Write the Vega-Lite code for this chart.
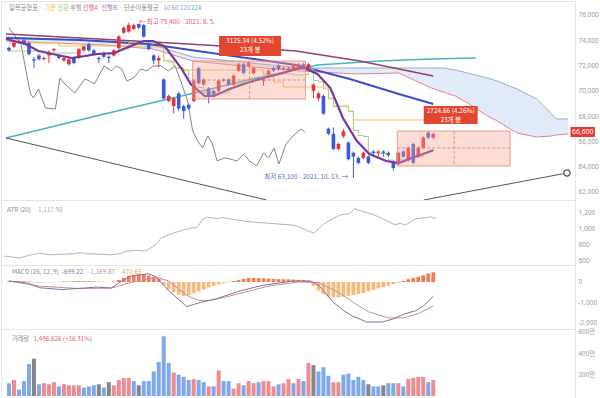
{
"$schema":"https://vega.github.io/schema/vega-lite/v6.json",
"padding":0,
"bounds":"flush",
"spacing":0,
"background":"#ffffff",
"config":{
 "view":{"stroke":"#e6e6e6","strokeWidth":1},
 "axis":{"labelFont":"Noto Sans","labelFontSize":6.5,"labelColor":"#9b9b9b","ticks":false,"domain":false,"grid":false,"labelPadding":3,"title":null},
 "text":{"font":"Noto Sans CJK KR","fontSize":6.3,"baseline":"middle","align":"left"},
 "concat":{"spacing":0}
},
"datasets":{
 "candles":[
  {"i":0,"o":73400,"c":73200,"h":73500,"l":73100,"d":"dn"},
  {"i":1,"o":73500,"c":73800,"h":73900,"l":73400,"d":"up"},
  {"i":2,"o":73800,"c":73900,"h":74000,"l":73700,"d":"up"},
  {"i":3,"o":74000,"c":73700,"h":74200,"l":73600,"d":"dn"},
  {"i":4,"o":73800,"c":72900,"h":73900,"l":72800,"d":"dn"},
  {"i":5,"o":72500,"c":72400,"h":72700,"l":71800,"d":"dn"},
  {"i":6,"o":72800,"c":72500,"h":72900,"l":72400,"d":"dn"},
  {"i":7,"o":72500,"c":72600,"h":72700,"l":72400,"d":"up"},
  {"i":8,"o":72800,"c":73000,"h":73200,"l":72200,"d":"up"},
  {"i":9,"o":73200,"c":73300,"h":73400,"l":73100,"d":"up"},
  {"i":10,"o":72800,"c":72600,"h":72900,"l":72500,"d":"dn"},
  {"i":11,"o":72400,"c":72600,"h":72700,"l":72300,"d":"up"},
  {"i":12,"o":72100,"c":72500,"h":72600,"l":72000,"d":"up"},
  {"i":13,"o":72600,"c":72200,"h":72700,"l":72100,"d":"dn"},
  {"i":14,"o":72600,"c":73300,"h":73400,"l":72500,"d":"up"},
  {"i":15,"o":73200,"c":73500,"h":73600,"l":73100,"d":"up"},
  {"i":16,"o":73700,"c":73200,"h":73800,"l":73100,"d":"dn"},
  {"i":17,"o":73200,"c":72900,"h":73300,"l":72800,"d":"dn"},
  {"i":18,"o":72600,"c":72500,"h":72700,"l":72200,"d":"dn"},
  {"i":19,"o":73000,"c":72700,"h":73100,"l":72600,"d":"dn"},
  {"i":20,"o":72700,"c":72600,"h":72800,"l":72200,"d":"dn"},
  {"i":21,"o":72800,"c":73200,"h":73300,"l":72700,"d":"up"},
  {"i":22,"o":73400,"c":74300,"h":74400,"l":73300,"d":"up"},
  {"i":23,"o":74600,"c":75000,"h":75100,"l":74500,"d":"up"},
  {"i":24,"o":74700,"c":75200,"h":75400,"l":74600,"d":"up"},
  {"i":25,"o":74900,"c":75200,"h":75300,"l":74800,"d":"up"},
  {"i":26,"o":75300,"c":75000,"h":75300,"l":74900,"d":"dn"},
  {"i":27,"o":75200,"c":74300,"h":75300,"l":74200,"d":"dn"},
  {"i":28,"o":73700,"c":73300,"h":73800,"l":73200,"d":"dn"},
  {"i":29,"o":72800,"c":72400,"h":72900,"l":72100,"d":"dn"},
  {"i":30,"o":72400,"c":72600,"h":72800,"l":71900,"d":"up"},
  {"i":31,"o":70900,"c":69400,"h":71000,"l":69300,"d":"dn"},
  {"i":32,"o":69200,"c":69600,"h":69700,"l":69100,"d":"up"},
  {"i":33,"o":68800,"c":69400,"h":69500,"l":68200,"d":"up"},
  {"i":34,"o":69800,"c":68600,"h":69900,"l":68400,"d":"dn"},
  {"i":35,"o":68800,"c":68400,"h":68900,"l":67800,"d":"dn"},
  {"i":36,"o":68900,"c":68600,"h":69000,"l":68500,"d":"dn"},
  {"i":37,"o":69200,"c":70800,"h":70900,"l":69100,"d":"up"},
  {"i":38,"o":71800,"c":70600,"h":71900,"l":70500,"d":"dn"},
  {"i":39,"o":70500,"c":70900,"h":71000,"l":70400,"d":"up"},
  {"i":40,"o":70200,"c":69600,"h":70300,"l":69000,"d":"dn"},
  {"i":41,"o":70000,"c":69700,"h":70100,"l":69500,"d":"dn"},
  {"i":42,"o":70000,"c":70800,"h":70900,"l":69900,"d":"up"},
  {"i":43,"o":70800,"c":70900,"h":71000,"l":70700,"d":"up"},
  {"i":44,"o":70900,"c":70500,"h":71000,"l":70400,"d":"dn"},
  {"i":45,"o":70500,"c":71200,"h":71300,"l":70400,"d":"up"},
  {"i":46,"o":71600,"c":72100,"h":72200,"l":71500,"d":"up"},
  {"i":47,"o":72100,"c":71400,"h":72200,"l":71300,"d":"dn"},
  {"i":48,"o":72000,"c":72200,"h":72300,"l":71900,"d":"up"},
  {"i":49,"o":71400,"c":71800,"h":71900,"l":71300,"d":"up"},
  {"i":50,"o":71000,"c":70900,"h":71100,"l":70800,"d":"dn"},
  {"i":51,"o":70800,"c":70900,"h":71000,"l":70400,"d":"up"},
  {"i":52,"o":71300,"c":71600,"h":71700,"l":71200,"d":"up"},
  {"i":53,"o":71800,"c":71600,"h":71900,"l":71500,"d":"dn"},
  {"i":54,"o":72000,"c":71700,"h":72100,"l":71600,"d":"dn"},
  {"i":55,"o":71700,"c":71800,"h":71900,"l":71600,"d":"up"},
  {"i":56,"o":71600,"c":71800,"h":71900,"l":71500,"d":"up"},
  {"i":57,"o":71700,"c":72000,"h":72100,"l":71600,"d":"up"},
  {"i":58,"o":71800,"c":72100,"h":72200,"l":71700,"d":"up"},
  {"i":59,"o":72100,"c":71800,"h":72200,"l":71700,"d":"dn"},
  {"i":60,"o":71800,"c":72100,"h":72200,"l":71700,"d":"up"},
  {"i":61,"o":70000,"c":70500,"h":70600,"l":69400,"d":"up"},
  {"i":62,"o":69400,"c":69800,"h":69900,"l":69200,"d":"up"},
  {"i":63,"o":69600,"c":68200,"h":69700,"l":68100,"d":"dn"},
  {"i":64,"o":67000,"c":66600,"h":67100,"l":66500,"d":"dn"},
  {"i":65,"o":66600,"c":65400,"h":67100,"l":65300,"d":"dn"},
  {"i":66,"o":65400,"c":65800,"h":65900,"l":65300,"d":"up"},
  {"i":67,"o":66400,"c":66800,"h":67000,"l":66300,"d":"up"},
  {"i":68,"o":65900,"c":64600,"h":66000,"l":64500,"d":"dn"},
  {"i":69,"o":65100,"c":64800,"h":65200,"l":63100,"d":"dn"},
  {"i":70,"o":64700,"c":64300,"h":64800,"l":64200,"d":"dn"},
  {"i":71,"o":64700,"c":65100,"h":65200,"l":64600,"d":"up"},
  {"i":72,"o":64800,"c":64300,"h":64900,"l":64200,"d":"dn"},
  {"i":73,"o":65200,"c":65100,"h":65300,"l":64900,"d":"dn"},
  {"i":74,"o":65100,"c":65200,"h":65300,"l":64800,"d":"up"},
  {"i":75,"o":65200,"c":65100,"h":65300,"l":64800,"d":"dn"},
  {"i":76,"o":65100,"c":64900,"h":65200,"l":64800,"d":"dn"},
  {"i":77,"o":64300,"c":63900,"h":64500,"l":63700,"d":"dn"},
  {"i":78,"o":64200,"c":65100,"h":65200,"l":64100,"d":"up"},
  {"i":79,"o":65200,"c":64800,"h":65300,"l":64700,"d":"dn"},
  {"i":80,"o":64500,"c":65500,"h":65600,"l":64400,"d":"up"},
  {"i":81,"o":65800,"c":64300,"h":65900,"l":64200,"d":"dn"},
  {"i":82,"o":64800,"c":65500,"h":65600,"l":64700,"d":"up"},
  {"i":83,"o":65500,"c":66300,"h":66400,"l":65400,"d":"up"},
  {"i":84,"o":66700,"c":66300,"h":66800,"l":66200,"d":"dn"},
  {"i":85,"o":66300,"c":66600,"h":66700,"l":66200,"d":"up"}
 ],
 "cloud":[
  {"i":-0.6,"a":73943,"b":74260},{"i":19.1,"a":73627,"b":73943},{"i":28.9,"a":73311,"b":73627},
  {"i":36.8,"a":72361,"b":72678},{"i":48.6,"a":71887,"b":72203},{"i":58.5,"a":71570,"b":71808},
  {"i":69.7,"a":71333,"b":71808},{"i":78.1,"a":71412,"b":71808},{"i":84.6,"a":70226,"b":71808},
  {"i":87.0,"a":69909,"b":71808},{"i":89.4,"a":69593,"b":71650},{"i":91.9,"a":69039,"b":71412},
  {"i":95.9,"a":68011,"b":71017},{"i":97.8,"a":67615,"b":70779},{"i":101.8,"a":66666,"b":70147},
  {"i":105.7,"a":66350,"b":69356},{"i":108.7,"a":66429,"b":68169},{"i":109.6,"a":66508,"b":67774},
  {"i":112.0,"a":66587,"b":67774}
 ],
 "ma":[
  {"s":"후행","i":0,"p":74972},{"s":"후행","i":2.4,"p":73706},{"s":"후행","i":3.3,"p":71808},{"s":"후행","i":4.3,"p":69751},{"s":"후행","i":4.9,"p":69435},{"s":"후행","i":5.9,"p":70147},{"s":"후행","i":7.3,"p":68644},{"s":"후행","i":9.3,"p":68565},{"s":"후행","i":10.2,"p":71017},{"s":"후행","i":11.2,"p":70542},{"s":"후행","i":13.2,"p":69830},{"s":"후행","i":15.2,"p":70938},{"s":"후행","i":16.1,"p":70779},{"s":"후행","i":17.1,"p":70542},{"s":"후행","i":19.1,"p":71966},{"s":"후행","i":20.5,"p":71570},{"s":"후행","i":21.5,"p":71966},{"s":"후행","i":22.6,"p":71729},{"s":"후행","i":23.6,"p":70779},{"s":"후행","i":25,"p":71017},{"s":"후행","i":26.4,"p":71729},{"s":"후행","i":27.6,"p":71570},{"s":"후행","i":28.9,"p":71966},{"s":"후행","i":30.5,"p":71966},{"s":"후행","i":31.9,"p":71570},{"s":"후행","i":33.3,"p":71966},{"s":"후행","i":34.4,"p":70779},{"s":"후행","i":35.8,"p":69197},{"s":"후행","i":36.8,"p":66824},{"s":"후행","i":37.8,"p":66033},{"s":"후행","i":38.8,"p":65480},{"s":"후행","i":39.8,"p":66429},{"s":"후행","i":40.7,"p":65875},{"s":"후행","i":41.7,"p":64451},{"s":"후행","i":43.1,"p":64689},{"s":"후행","i":44.3,"p":64610},{"s":"후행","i":45.7,"p":64451},{"s":"후행","i":47,"p":65005},{"s":"후행","i":48.2,"p":64451},{"s":"후행","i":49.6,"p":64056},{"s":"후행","i":51,"p":65084},{"s":"후행","i":52,"p":64689},{"s":"후행","i":53.1,"p":65480},{"s":"후행","i":54.1,"p":64214},{"s":"후행","i":55.5,"p":65796},{"s":"후행","i":56.9,"p":66429},{"s":"후행","i":58.5,"p":66982},{"s":"후행","i":59.3,"p":66745},
  {"s":"MA224","i":-0.6,"p":66271},{"s":"MA224","i":19.1,"p":68169},{"s":"MA224","i":38.8,"p":69988},{"s":"MA224","i":48.6,"p":70938},{"s":"MA224","i":61.8,"p":72045},{"s":"MA224","i":74.2,"p":72361},{"s":"MA224","i":84.6,"p":72520},{"s":"MA224","i":93.5,"p":72599},
  {"s":"MA120","i":-0.6,"p":74497},{"s":"MA120","i":14.2,"p":74181},{"s":"MA120","i":28.9,"p":73864},{"s":"MA120","i":42.7,"p":73548},{"s":"MA120","i":57.5,"p":73152},{"s":"MA120","i":70.3,"p":72361},{"s":"MA120","i":85,"p":71175},
  {"s":"MA60","i":-0.6,"p":74181},{"s":"MA60","i":14.2,"p":74023},{"s":"MA60","i":28,"p":73706},{"s":"MA60","i":47.6,"p":72599},{"s":"MA60","i":57.5,"p":72045},{"s":"MA60","i":68.3,"p":70938},{"s":"MA60","i":78.1,"p":69751},{"s":"MA60","i":85,"p":68960},
  {"s":"MA10","i":-0.6,"p":74102},{"s":"MA10","i":3.3,"p":73706},{"s":"MA10","i":5.9,"p":73152},{"s":"MA10","i":8.7,"p":72915},{"s":"MA10","i":12.6,"p":72599},{"s":"MA10","i":15.2,"p":72757},{"s":"MA10","i":17.7,"p":72915},{"s":"MA10","i":21.1,"p":72994},{"s":"MA10","i":24.4,"p":73548},{"s":"MA10","i":27,"p":73943},{"s":"MA10","i":28.9,"p":73943},{"s":"MA10","i":31.3,"p":73469},{"s":"MA10","i":34.5,"p":71808},{"s":"MA10","i":36.4,"p":70542},{"s":"MA10","i":39.2,"p":69593},{"s":"MA10","i":41.1,"p":69593},{"s":"MA10","i":43.7,"p":70068},{"s":"MA10","i":47.6,"p":70621},{"s":"MA10","i":51,"p":71017},{"s":"MA10","i":54.9,"p":71412},{"s":"MA10","i":57.5,"p":71729},{"s":"MA10","i":59.1,"p":71808},{"s":"MA10","i":61.8,"p":71333},{"s":"MA10","i":64.4,"p":70226},{"s":"MA10","i":66.9,"p":67853},{"s":"MA10","i":69.7,"p":66033},{"s":"MA10","i":72.2,"p":65005},{"s":"MA10","i":75.6,"p":64451},{"s":"MA10","i":78.1,"p":64293},{"s":"MA10","i":80.7,"p":64689},{"s":"MA10","i":84.6,"p":65242},{"s":"MA10","i":85,"p":65322}
 ],
 "ichi":[
  {"s":"기준","i":0,"p":73785},{"s":"기준","i":10,"p":73548},{"s":"기준","i":26,"p":73469},{"s":"기준","i":31,"p":72361},{"s":"기준","i":33,"p":71808},{"s":"기준","i":35,"p":71650},{"s":"기준","i":51,"p":71175},{"s":"기준","i":53,"p":70700},{"s":"기준","i":55,"p":70305},{"s":"기준","i":64,"p":69435},{"s":"기준","i":65,"p":68802},{"s":"기준","i":68,"p":68406},{"s":"기준","i":69,"p":67695},{"s":"기준","i":85,"p":67695},
  {"s":"전환","i":0,"p":73152},{"s":"전환","i":8,"p":72994},{"s":"전환","i":14,"p":72717},{"s":"전환","i":16,"p":72915},{"s":"전환","i":22,"p":73311},{"s":"전환","i":24,"p":73825},{"s":"전환","i":29,"p":73785},{"s":"전환","i":30,"p":73667},{"s":"전환","i":31,"p":72401},{"s":"전환","i":32,"p":72282},{"s":"전환","i":33,"p":71808},{"s":"전환","i":35,"p":71610},{"s":"전환","i":36,"p":70779},{"s":"전환","i":37,"p":70344},{"s":"전환","i":38,"p":70265},{"s":"전환","i":39,"p":69830},{"s":"전환","i":44,"p":70226},{"s":"전환","i":45,"p":70463},{"s":"전환","i":46,"p":70621},{"s":"전환","i":48,"p":70661},{"s":"전환","i":49,"p":70898},{"s":"전환","i":50,"p":71096},{"s":"전환","i":51,"p":71333},{"s":"전환","i":57,"p":71254},{"s":"전환","i":59,"p":71294},{"s":"전환","i":60,"p":71729},{"s":"전환","i":61,"p":70819},{"s":"전환","i":62,"p":70700},{"s":"전환","i":63,"p":70147},{"s":"전환","i":64,"p":69356},{"s":"전환","i":65,"p":68762},{"s":"전환","i":68,"p":68367},{"s":"전환","i":69,"p":66864},{"s":"전환","i":70,"p":66468},{"s":"전환","i":71,"p":66389},{"s":"전환","i":72,"p":65084},{"s":"전환","i":74,"p":65045},{"s":"전환","i":76,"p":64531},{"s":"전환","i":77,"p":64214},{"s":"전환","i":78,"p":64531},{"s":"전환","i":80,"p":64649},{"s":"전환","i":81,"p":64807},{"s":"전환","i":83,"p":65045},{"s":"전환","i":84,"p":65242},{"s":"전환","i":85,"p":65242}
 ],
 "trend":[
  {"g":"t1","i":-0.6,"p":66271},{"g":"t1","i":51.6,"p":61366},
  {"g":"t2","i":83.1,"p":61366},{"g":"t2","i":111.8,"p":63502}
 ],
 "tpt":[{"i":111.8,"p":63502}],
 "boxes":[{"x1":36.8,"x2":59.4,"y1":72361,"y2":69356},{"x1":77.8,"x2":100.4,"y1":66824,"y2":64056}],
 "dash":[
  {"x1":36.8,"x2":59.4,"y1":70859,"y2":70859},{"x1":48.2,"x2":48.2,"y1":72361,"y2":69356},
  {"x1":77.8,"x2":100.4,"y1":65480,"y2":65480},{"x1":89.2,"x2":89.2,"y1":66824,"y2":64056}
 ],
 "lbox":[{"x1":42.1,"x2":54.5,"y1":74339,"y2":72757},{"x1":83.1,"x2":93.9,"y1":68802,"y2":67378}],
 "ltext":[
  {"i":48.3,"p":73943,"t":"3125.34 (4.52%)"},{"i":48.3,"p":73231,"t":"23개 봉"},
  {"i":88.5,"p":68406,"t":"2724.66 (4.26%)"},{"i":88.5,"p":67695,"t":"23개 봉"}
 ],
 "leg":[
  {"i":0,"p":76554,"t":"일목균형표"},{"i":7.09,"p":76554,"t":"기준"},{"i":9.65,"p":76554,"t":"전환"},
  {"i":12.2,"p":76554,"t":"후행"},{"i":14.76,"p":76554,"t":"선행A"},{"i":18.5,"p":76554,"t":"선행B"},
  {"i":22.05,"p":76554,"t":"·"},{"i":23.03,"p":76554,"t":"단순이동평균"},{"i":30.9,"p":76554,"t":"10 60 120"},
  {"i":36.4,"p":76554,"t":"224"}
 ],
 "hi":[{"i":26,"p":75446,"t":"← 최고 75,400 - 2021. 8. 5."}],
 "lo":[{"i":67.9,"p":63186,"t":"최저 63,100 - 2021. 10. 13. →"}],
 "last":[{"x1":112.5,"x2":117.4,"y1":67141,"y2":66350,"i":114.95,"p":66745,"t":"66,600"}],
 "atr":[
  {"i":0,"v":650},{"i":3,"v":625},{"i":5,"v":660},{"i":7,"v":683},{"i":9,"v":665},{"i":11,"v":670},{"i":14,"v":680},{"i":15,"v":695},{"i":16,"v":680},{"i":19,"v":672},{"i":21,"v":665},{"i":23,"v":680},{"i":24,"v":710},{"i":26,"v":720},{"i":28,"v":712},{"i":30,"v":800},{"i":31,"v":880},{"i":33,"v":930},{"i":35,"v":970},{"i":37,"v":1000},{"i":38,"v":1005},{"i":39,"v":1100},{"i":40,"v":1135},{"i":42,"v":1120},{"i":43,"v":1130},{"i":46,"v":1098},{"i":48,"v":1080},{"i":52,"v":1060},{"i":57,"v":1035},{"i":58,"v":1015},{"i":60,"v":960},{"i":61,"v":935},{"i":63,"v":1055},{"i":64,"v":1090},{"i":66,"v":1160},{"i":67,"v":1170},{"i":68,"v":1180},{"i":69,"v":1240},{"i":71,"v":1200},{"i":73,"v":1160},{"i":75,"v":1100},{"i":77,"v":1040},{"i":78,"v":1060},{"i":79,"v":1035},{"i":81,"v":1115},{"i":83,"v":1130},{"i":84,"v":1140},{"i":85,"v":1118}
 ],
 "atrh":[{"i":0.6,"v":1225,"t":"ATR (20)"},{"i":6.7,"v":1225,"t":"1,117.98"}],
 "macd":[
  {"s":"m","i":0,"v":50},{"s":"m","i":3.9,"v":-60},{"s":"m","i":6.1,"v":-280},{"s":"m","i":10.6,"v":-370},{"s":"m","i":14.6,"v":-300},{"s":"m","i":17.5,"v":-250},{"s":"m","i":20.5,"v":-290},{"s":"m","i":22,"v":-50},{"s":"m","i":24.2,"v":280},{"s":"m","i":28,"v":400},{"s":"m","i":29.5,"v":250},{"s":"m","i":31.9,"v":-400},{"s":"m","i":35.6,"v":-1200},{"s":"m","i":38.6,"v":-980},{"s":"m","i":41.5,"v":-820},{"s":"m","i":46.1,"v":-450},{"s":"m","i":50.6,"v":-170},{"s":"m","i":56.7,"v":40},{"s":"m","i":60.4,"v":50},{"s":"m","i":62,"v":-150},{"s":"m","i":63.6,"v":-600},{"s":"m","i":65,"v":-1000},{"s":"m","i":67.1,"v":-1400},{"s":"m","i":68.7,"v":-1650},{"s":"m","i":71.7,"v":-1950},{"s":"m","i":74.8,"v":-1950},{"s":"m","i":77,"v":-1800},{"s":"m","i":79.3,"v":-1550},{"s":"m","i":81.5,"v":-1400},{"s":"m","i":83.1,"v":-1150},{"s":"m","i":85,"v":-699},
  {"s":"sg","i":0,"v":50},{"s":"sg","i":6,"v":-200},{"s":"sg","i":14,"v":-320},{"s":"sg","i":20.5,"v":-300},{"s":"sg","i":24,"v":-50},{"s":"sg","i":28,"v":150},{"s":"sg","i":30,"v":200},{"s":"sg","i":32,"v":50},{"s":"sg","i":34,"v":-350},{"s":"sg","i":36,"v":-700},{"s":"sg","i":38,"v":-900},{"s":"sg","i":40,"v":-920},{"s":"sg","i":44,"v":-700},{"s":"sg","i":52,"v":-200},{"s":"sg","i":58,"v":0},{"s":"sg","i":62,"v":-30},{"s":"sg","i":66,"v":-500},{"s":"sg","i":69,"v":-1000},{"s":"sg","i":72,"v":-1450},{"s":"sg","i":76,"v":-1750},{"s":"sg","i":79,"v":-1750},{"s":"sg","i":82,"v":-1550},{"s":"sg","i":85,"v":-1170}
 ],
 "hist":[
  {"i":0,"v":40,"k":"p"},{"i":1,"v":50,"k":"p"},{"i":2,"v":45,"k":"p"},{"i":3,"v":35,"k":"p"},{"i":4,"v":25,"k":"p"},{"i":5,"v":-20,"k":"n"},{"i":6,"v":-40,"k":"n"},{"i":7,"v":-30,"k":"n"},{"i":8,"v":-20,"k":"n"},{"i":9,"v":-10,"k":"n"},{"i":10,"v":10,"k":"p"},{"i":11,"v":20,"k":"p"},{"i":12,"v":30,"k":"p"},{"i":13,"v":40,"k":"p"},{"i":14,"v":45,"k":"p"},{"i":15,"v":40,"k":"p"},{"i":16,"v":35,"k":"p"},{"i":17,"v":30,"k":"p"},{"i":18,"v":20,"k":"p"},{"i":19,"v":10,"k":"p"},{"i":20,"v":-10,"k":"n"},{"i":21,"v":30,"k":"p"},
  {"i":22,"v":100,"k":"p"},{"i":23,"v":200,"k":"p"},{"i":24,"v":300,"k":"p"},{"i":25,"v":350,"k":"p"},{"i":26,"v":380,"k":"p"},{"i":27,"v":390,"k":"p"},{"i":28,"v":320,"k":"p"},{"i":29,"v":250,"k":"p"},{"i":30,"v":150,"k":"p"},
  {"i":31,"v":-150,"k":"n"},{"i":32,"v":-350,"k":"n"},{"i":33,"v":-500,"k":"n"},{"i":34,"v":-620,"k":"n"},{"i":35,"v":-680,"k":"n"},{"i":36,"v":-650,"k":"n"},{"i":37,"v":-560,"k":"n"},{"i":38,"v":-460,"k":"n"},{"i":39,"v":-360,"k":"n"},{"i":40,"v":-270,"k":"n"},{"i":41,"v":-190,"k":"n"},{"i":42,"v":-120,"k":"n"},{"i":43,"v":-60,"k":"n"},
  {"i":44,"v":20,"k":"p"},{"i":45,"v":50,"k":"p"},{"i":46,"v":100,"k":"p"},{"i":47,"v":150,"k":"p"},{"i":48,"v":190,"k":"p"},{"i":49,"v":200,"k":"p"},{"i":50,"v":190,"k":"p"},{"i":51,"v":180,"k":"p"},{"i":52,"v":160,"k":"p"},{"i":53,"v":150,"k":"p"},{"i":54,"v":140,"k":"p"},{"i":55,"v":130,"k":"p"},{"i":56,"v":130,"k":"p"},{"i":57,"v":120,"k":"p"},{"i":58,"v":110,"k":"p"},{"i":59,"v":100,"k":"p"},{"i":60,"v":60,"k":"p"},
  {"i":61,"v":-200,"k":"n"},{"i":62,"v":-420,"k":"n"},{"i":63,"v":-600,"k":"n"},{"i":64,"v":-700,"k":"n"},{"i":65,"v":-740,"k":"n"},{"i":66,"v":-750,"k":"n"},{"i":67,"v":-720,"k":"n"},{"i":68,"v":-680,"k":"n"},{"i":69,"v":-640,"k":"n"},{"i":70,"v":-590,"k":"n"},{"i":71,"v":-530,"k":"n"},{"i":72,"v":-460,"k":"n"},{"i":73,"v":-390,"k":"n"},{"i":74,"v":-320,"k":"n"},{"i":75,"v":-250,"k":"n"},{"i":76,"v":-180,"k":"n"},{"i":77,"v":-110,"k":"n"},{"i":78,"v":-40,"k":"n"},
  {"i":79,"v":60,"k":"p"},{"i":80,"v":140,"k":"p"},{"i":81,"v":200,"k":"p"},{"i":82,"v":260,"k":"p"},{"i":83,"v":330,"k":"p"},{"i":84,"v":410,"k":"p"},{"i":85,"v":470.65,"k":"p"}
 ],
 "macdh":[{"i":0.6,"v":488,"t":"MACD (26, 12, 9)"},{"i":10.6,"v":488,"t":"-699.22"},{"i":15.9,"v":488,"t":"-1,169.87"},{"i":22.7,"v":488,"t":"470.65"}],
 "vol":[
  {"i":0,"v":1200000,"k":"b"},{"i":1,"v":1500000,"k":"r"},{"i":2,"v":600000,"k":"b"},{"i":3,"v":1400000,"k":"b"},{"i":4,"v":3000000,"k":"b"},{"i":5,"v":3500000,"k":"g"},{"i":6,"v":1100000,"k":"b"},{"i":7,"v":1200000,"k":"r"},{"i":8,"v":1100000,"k":"r"},{"i":9,"v":1300000,"k":"r"},{"i":10,"v":900000,"k":"b"},{"i":11,"v":1100000,"k":"r"},{"i":12,"v":1000000,"k":"r"},{"i":13,"v":1000000,"k":"r"},{"i":14,"v":1000000,"k":"r"},{"i":15,"v":800000,"k":"b"},{"i":16,"v":900000,"k":"b"},{"i":17,"v":1000000,"k":"b"},{"i":18,"v":1100000,"k":"g"},{"i":19,"v":800000,"k":"b"},{"i":20,"v":1300000,"k":"g"},{"i":21,"v":1000000,"k":"r"},{"i":22,"v":1500000,"k":"r"},
  {"i":23,"v":1700000,"k":"r"},{"i":24,"v":1700000,"k":"r"},{"i":25,"v":1400000,"k":"b"},{"i":26,"v":1000000,"k":"g"},{"i":27,"v":1400000,"k":"b"},{"i":28,"v":1400000,"k":"b"},{"i":29,"v":2300000,"k":"b"},{"i":30,"v":3200000,"k":"b"},{"i":31,"v":5600000,"k":"b"},{"i":32,"v":3100000,"k":"b"},{"i":33,"v":2200000,"k":"r"},{"i":34,"v":2000000,"k":"b"},{"i":35,"v":1800000,"k":"b"},{"i":36,"v":1500000,"k":"b"},{"i":37,"v":1600000,"k":"r"},{"i":38,"v":1500000,"k":"b"},{"i":39,"v":1300000,"k":"b"},{"i":40,"v":900000,"k":"r"},{"i":41,"v":900000,"k":"b"},{"i":42,"v":2400000,"k":"r"},{"i":43,"v":1400000,"k":"b"},{"i":44,"v":1400000,"k":"b"},{"i":45,"v":700000,"k":"r"},{"i":46,"v":1200000,"k":"r"},{"i":47,"v":1000000,"k":"b"},{"i":48,"v":1400000,"k":"r"},{"i":49,"v":1200000,"k":"r"},{"i":50,"v":1300000,"k":"b"},{"i":51,"v":1400000,"k":"r"},{"i":52,"v":1400000,"k":"r"},{"i":53,"v":900000,"k":"r"},{"i":54,"v":1100000,"k":"b"},{"i":55,"v":1200000,"k":"r"},{"i":56,"v":1600000,"k":"r"},{"i":57,"v":1200000,"k":"b"},{"i":58,"v":1600000,"k":"r"},{"i":59,"v":1400000,"k":"b"},{"i":60,"v":3100000,"k":"r"},{"i":61,"v":2900000,"k":"g"},{"i":62,"v":2300000,"k":"b"},{"i":63,"v":2700000,"k":"b"},{"i":64,"v":1900000,"k":"b"},{"i":65,"v":1300000,"k":"r"},{"i":66,"v":1300000,"k":"r"},{"i":67,"v":2000000,"k":"b"},{"i":68,"v":2100000,"k":"b"},{"i":69,"v":1500000,"k":"b"},{"i":70,"v":1800000,"k":"b"},{"i":71,"v":1500000,"k":"b"},{"i":72,"v":1100000,"k":"g"},{"i":73,"v":900000,"k":"b"},{"i":74,"v":900000,"k":"b"},{"i":75,"v":1000000,"k":"g"},{"i":76,"v":1200000,"k":"b"},{"i":77,"v":1200000,"k":"b"},{"i":78,"v":1200000,"k":"r"},{"i":79,"v":900000,"k":"b"},{"i":80,"v":1600000,"k":"r"},{"i":81,"v":1700000,"k":"r"},{"i":82,"v":1800000,"k":"r"},{"i":83,"v":1800000,"k":"r"},{"i":84,"v":1300000,"k":"b"},{"i":85,"v":1496626,"k":"r"}
 ],
 "volh":[{"i":0.6,"v":5344000,"t":"거래량"},{"i":4.9,"v":5344000,"t":"1,496,626 (+16.31%)"}]
},
"vconcat":[
 {"width":574,"height":199,
  "resolve":{"scale":{"color":"independent"}},
  "layer":[
   {"data":{"name":"cloud"},"mark":{"type":"area","color":"#dfe9f8","opacity":0.9,"clip":true},
    "encoding":{"x":{"field":"i","type":"quantitative","scale":{"domain":[-0.6,112.4],"nice":false,"zero":false},"axis":null},
     "y":{"field":"b","type":"quantitative","scale":{"domain":[61366,77107],"nice":false,"zero":false},"axis":{"orient":"right","values":[62000,64000,66000,68000,70000,72000,74000,76000],"format":",d"}},"y2":{"field":"a"}}},
   {"data":{"name":"cloud"},"mark":{"type":"line","color":"#98acd6","strokeWidth":1,"clip":true},
    "encoding":{"x":{"field":"i","type":"quantitative","scale":{"domain":[-0.6,112.4],"nice":false,"zero":false},"axis":null},
     "y":{"field":"b","type":"quantitative","scale":{"domain":[61366,77107],"nice":false,"zero":false},"axis":{"orient":"right","values":[62000,64000,66000,68000,70000,72000,74000,76000],"format":",d"}}}},
   {"data":{"name":"cloud"},"mark":{"type":"line","color":"#e6848c","strokeWidth":1,"clip":true},
    "encoding":{"x":{"field":"i","type":"quantitative","scale":{"domain":[-0.6,112.4],"nice":false,"zero":false},"axis":null},
     "y":{"field":"a","type":"quantitative","scale":{"domain":[61366,77107],"nice":false,"zero":false},"axis":{"orient":"right","values":[62000,64000,66000,68000,70000,72000,74000,76000],"format":",d"}}}},
   {"data":{"name":"ma"},"transform":[{"filter":"datum.s === '후행'"}],"mark":{"type":"line","color":"#8e7f8b","strokeWidth":1,"clip":true},
    "encoding":{"x":{"field":"i","type":"quantitative","scale":{"domain":[-0.6,112.4],"nice":false,"zero":false},"axis":null},
     "y":{"field":"p","type":"quantitative","scale":{"domain":[61366,77107],"nice":false,"zero":false},"axis":{"orient":"right","values":[62000,64000,66000,68000,70000,72000,74000,76000],"format":",d"}}}},
   {"data":{"name":"ma"},"transform":[{"filter":"datum.s === 'MA224'"}],"mark":{"type":"line","color":"#45b3c4","strokeWidth":1.5,"clip":true},
    "encoding":{"x":{"field":"i","type":"quantitative","scale":{"domain":[-0.6,112.4],"nice":false,"zero":false},"axis":null},
     "y":{"field":"p","type":"quantitative","scale":{"domain":[61366,77107],"nice":false,"zero":false},"axis":{"orient":"right","values":[62000,64000,66000,68000,70000,72000,74000,76000],"format":",d"}}}},
   {"data":{"name":"ma"},"transform":[{"filter":"datum.s === 'MA120'"}],"mark":{"type":"line","color":"#963f68","strokeWidth":1.5,"clip":true},
    "encoding":{"x":{"field":"i","type":"quantitative","scale":{"domain":[-0.6,112.4],"nice":false,"zero":false},"axis":null},
     "y":{"field":"p","type":"quantitative","scale":{"domain":[61366,77107],"nice":false,"zero":false},"axis":{"orient":"right","values":[62000,64000,66000,68000,70000,72000,74000,76000],"format":",d"}}}},
   {"data":{"name":"ma"},"transform":[{"filter":"datum.s === 'MA60'"}],"mark":{"type":"line","color":"#3d4fc3","strokeWidth":2,"clip":true},
    "encoding":{"x":{"field":"i","type":"quantitative","scale":{"domain":[-0.6,112.4],"nice":false,"zero":false},"axis":null},
     "y":{"field":"p","type":"quantitative","scale":{"domain":[61366,77107],"nice":false,"zero":false},"axis":{"orient":"right","values":[62000,64000,66000,68000,70000,72000,74000,76000],"format":",d"}}}},
   {"data":{"name":"ichi"},"transform":[{"filter":"datum.s === '기준'"}],"mark":{"type":"line","interpolate":"step-after","color":"#f0c44c","strokeWidth":1,"clip":true},
    "encoding":{"x":{"field":"i","type":"quantitative","scale":{"domain":[-0.6,112.4],"nice":false,"zero":false},"axis":null},
     "y":{"field":"p","type":"quantitative","scale":{"domain":[61366,77107],"nice":false,"zero":false},"axis":{"orient":"right","values":[62000,64000,66000,68000,70000,72000,74000,76000],"format":",d"}}}},
   {"data":{"name":"ichi"},"transform":[{"filter":"datum.s === '전환'"}],"mark":{"type":"line","interpolate":"step-after","color":"#a3d47c","strokeWidth":1,"clip":true},
    "encoding":{"x":{"field":"i","type":"quantitative","scale":{"domain":[-0.6,112.4],"nice":false,"zero":false},"axis":null},
     "y":{"field":"p","type":"quantitative","scale":{"domain":[61366,77107],"nice":false,"zero":false},"axis":{"orient":"right","values":[62000,64000,66000,68000,70000,72000,74000,76000],"format":",d"}}}},
   {"data":{"name":"trend"},"mark":{"type":"line","color":"#555555","strokeWidth":1,"clip":true},
    "encoding":{"x":{"field":"i","type":"quantitative","scale":{"domain":[-0.6,112.4],"nice":false,"zero":false},"axis":null},
     "y":{"field":"p","type":"quantitative","scale":{"domain":[61366,77107],"nice":false,"zero":false},"axis":{"orient":"right","values":[62000,64000,66000,68000,70000,72000,74000,76000],"format":",d"}},"detail":{"field":"g"}}},
   {"data":{"name":"tpt"},"mark":{"type":"point","filled":true,"fill":"#ffffff","stroke":"#555555","strokeWidth":1.2,"size":40,"opacity":1},
    "encoding":{"x":{"field":"i","type":"quantitative","scale":{"domain":[-0.6,112.4],"nice":false,"zero":false},"axis":null},
     "y":{"field":"p","type":"quantitative","scale":{"domain":[61366,77107],"nice":false,"zero":false},"axis":{"orient":"right","values":[62000,64000,66000,68000,70000,72000,74000,76000],"format":",d"}}}},
   {"data":{"name":"candles"},"mark":{"type":"rule","strokeWidth":1},
    "encoding":{"x":{"field":"i","type":"quantitative","scale":{"domain":[-0.6,112.4],"nice":false,"zero":false},"axis":null},
     "y":{"field":"l","type":"quantitative","scale":{"domain":[61366,77107],"nice":false,"zero":false},"axis":{"orient":"right","values":[62000,64000,66000,68000,70000,72000,74000,76000],"format":",d"}},"y2":{"field":"h"},
     "color":{"field":"d","type":"nominal","scale":{"domain":["up","dn"],"range":["#e5323b","#3a5bd9"]},"legend":null}}},
   {"data":{"name":"candles"},"mark":{"type":"bar","size":3.6},
    "encoding":{"x":{"field":"i","type":"quantitative","scale":{"domain":[-0.6,112.4],"nice":false,"zero":false},"axis":null},
     "y":{"field":"o","type":"quantitative","scale":{"domain":[61366,77107],"nice":false,"zero":false},"axis":{"orient":"right","values":[62000,64000,66000,68000,70000,72000,74000,76000],"format":",d"}},"y2":{"field":"c"},
     "color":{"field":"d","type":"nominal","scale":{"domain":["up","dn"],"range":["#e5323b","#3a5bd9"]},"legend":null}}},
   {"data":{"name":"ma"},"transform":[{"filter":"datum.s === 'MA10'"}],"mark":{"type":"line","color":"#7a33a0","strokeWidth":2.2,"clip":true},
    "encoding":{"x":{"field":"i","type":"quantitative","scale":{"domain":[-0.6,112.4],"nice":false,"zero":false},"axis":null},
     "y":{"field":"p","type":"quantitative","scale":{"domain":[61366,77107],"nice":false,"zero":false},"axis":{"orient":"right","values":[62000,64000,66000,68000,70000,72000,74000,76000],"format":",d"}}}},
   {"data":{"name":"boxes"},"mark":{"type":"rect","fill":"#f4a593","fillOpacity":0.38,"stroke":"#e98a7a","strokeWidth":0.8},
    "encoding":{"x":{"field":"x1","type":"quantitative","scale":{"domain":[-0.6,112.4],"nice":false,"zero":false},"axis":null},"x2":{"field":"x2"},
     "y":{"field":"y1","type":"quantitative","scale":{"domain":[61366,77107],"nice":false,"zero":false},"axis":{"orient":"right","values":[62000,64000,66000,68000,70000,72000,74000,76000],"format":",d"}},"y2":{"field":"y2"}}},
   {"data":{"name":"dash"},"mark":{"type":"rule","color":"#e07a6a","strokeWidth":0.8,"strokeDash":[3,2]},
    "encoding":{"x":{"field":"x1","type":"quantitative","scale":{"domain":[-0.6,112.4],"nice":false,"zero":false},"axis":null},"x2":{"field":"x2"},
     "y":{"field":"y1","type":"quantitative","scale":{"domain":[61366,77107],"nice":false,"zero":false},"axis":{"orient":"right","values":[62000,64000,66000,68000,70000,72000,74000,76000],"format":",d"}},"y2":{"field":"y2"}}},
   {"data":{"name":"lbox"},"mark":{"type":"rect","fill":"#e4452f"},
    "encoding":{"x":{"field":"x1","type":"quantitative","scale":{"domain":[-0.6,112.4],"nice":false,"zero":false},"axis":null},"x2":{"field":"x2"},
     "y":{"field":"y1","type":"quantitative","scale":{"domain":[61366,77107],"nice":false,"zero":false},"axis":{"orient":"right","values":[62000,64000,66000,68000,70000,72000,74000,76000],"format":",d"}},"y2":{"field":"y2"}}},
   {"data":{"name":"ltext"},"mark":{"type":"text","align":"center","color":"#ffffff","fontSize":6.5},
    "encoding":{"x":{"field":"i","type":"quantitative","scale":{"domain":[-0.6,112.4],"nice":false,"zero":false},"axis":null},
     "y":{"field":"p","type":"quantitative","scale":{"domain":[61366,77107],"nice":false,"zero":false},"axis":{"orient":"right","values":[62000,64000,66000,68000,70000,72000,74000,76000],"format":",d"}},"text":{"field":"t"}}},
   {"data":{"name":"leg"},"mark":{"type":"text","fontSize":6.3},
    "encoding":{"x":{"field":"i","type":"quantitative","scale":{"domain":[-0.6,112.4],"nice":false,"zero":false},"axis":null},
     "y":{"field":"p","type":"quantitative","scale":{"domain":[61366,77107],"nice":false,"zero":false},"axis":{"orient":"right","values":[62000,64000,66000,68000,70000,72000,74000,76000],"format":",d"}},"text":{"field":"t"},
     "color":{"field":"t","type":"nominal","scale":{"domain":["일목균형표","기준","전환","후행","선행A","선행B","·","단순이동평균","10 60 120","224"],"range":["#8c8c8c","#f0c44c","#a6d77e","#9a9a9a","#e66a78","#b676b8","#9a9a9a","#8c8c8c","#8b9bd0","#4cb5c5"]},"legend":null}}},
   {"data":{"name":"hi"},"mark":{"type":"text","align":"left","color":"#e35d6a","fontSize":6.5},
    "encoding":{"x":{"field":"i","type":"quantitative","scale":{"domain":[-0.6,112.4],"nice":false,"zero":false},"axis":null},
     "y":{"field":"p","type":"quantitative","scale":{"domain":[61366,77107],"nice":false,"zero":false},"axis":{"orient":"right","values":[62000,64000,66000,68000,70000,72000,74000,76000],"format":",d"}},"text":{"field":"t"}}},
   {"data":{"name":"lo"},"mark":{"type":"text","align":"right","color":"#5470c6","fontSize":6.5},
    "encoding":{"x":{"field":"i","type":"quantitative","scale":{"domain":[-0.6,112.4],"nice":false,"zero":false},"axis":null},
     "y":{"field":"p","type":"quantitative","scale":{"domain":[61366,77107],"nice":false,"zero":false},"axis":{"orient":"right","values":[62000,64000,66000,68000,70000,72000,74000,76000],"format":",d"}},"text":{"field":"t"}}},
   {"data":{"name":"last"},"mark":{"type":"rect","fill":"#e53935","clip":false},
    "encoding":{"x":{"field":"x1","type":"quantitative","scale":{"domain":[-0.6,112.4],"nice":false,"zero":false},"axis":null},"x2":{"field":"x2"},
     "y":{"field":"y1","type":"quantitative","scale":{"domain":[61366,77107],"nice":false,"zero":false},"axis":{"orient":"right","values":[62000,64000,66000,68000,70000,72000,74000,76000],"format":",d"}},"y2":{"field":"y2"}}},
   {"data":{"name":"last"},"mark":{"type":"text","align":"center","color":"#ffffff","font":"Noto Sans","fontSize":6.8},
    "encoding":{"x":{"field":"i","type":"quantitative","scale":{"domain":[-0.6,112.4],"nice":false,"zero":false},"axis":null},
     "y":{"field":"p","type":"quantitative","scale":{"domain":[61366,77107],"nice":false,"zero":false},"axis":{"orient":"right","values":[62000,64000,66000,68000,70000,72000,74000,76000],"format":",d"}},"text":{"field":"t"}}}
  ]},
 {"width":574,"height":65,
  "resolve":{"scale":{"color":"independent"}},
  "layer":[
   {"data":{"name":"atr"},"mark":{"type":"line","color":"#b5b5b5","strokeWidth":1},
    "encoding":{"x":{"field":"i","type":"quantitative","scale":{"domain":[-0.6,112.4],"nice":false,"zero":false},"axis":null},
     "y":{"field":"v","type":"quantitative","scale":{"domain":[537.5,1350],"nice":false,"zero":false},
      "axis":{"orient":"right","values":[600,800,1000,1200],"format":",d"}}}},
   {"data":{"name":"atrh"},"mark":{"type":"text","fontSize":6.3},
    "encoding":{"x":{"field":"i","type":"quantitative","scale":{"domain":[-0.6,112.4],"nice":false,"zero":false},"axis":null},
     "y":{"field":"v","type":"quantitative","scale":{"domain":[537.5,1350],"nice":false,"zero":false},"axis":{"orient":"right","values":[600,800,1000,1200],"format":",d"}},"text":{"field":"t"},
     "color":{"field":"t","type":"nominal","scale":{"domain":["ATR (20)","1,117.98"],"range":["#8a8a8a","#b0b0b0"]},"legend":null}}}
  ]},
 {"width":574,"height":64,
  "resolve":{"scale":{"color":"independent"}},
  "layer":[
   {"data":{"name":"hist"},"mark":{"type":"bar","size":3.8},
    "encoding":{"x":{"field":"i","type":"quantitative","scale":{"domain":[-0.6,112.4],"nice":false,"zero":false},"axis":null},
     "y":{"field":"v","type":"quantitative","scale":{"domain":[-2293,829],"nice":false,"zero":false},
      "axis":{"orient":"right","values":[-2000,-1000,0],"labelExpr":"datum.value < 0 ? '-' + format(-datum.value, ',d') : format(datum.value, ',d')"}},
     "y2":{"datum":0},
     "color":{"field":"k","type":"nominal","scale":{"domain":["p","n"],"range":["#ec8158","#f6bb7c"]},"legend":null}}},
   {"data":{"name":"macd"},"transform":[{"filter":"datum.s === 'sg'"}],"mark":{"type":"line","color":"#cc8d9a","strokeWidth":1},
    "encoding":{"x":{"field":"i","type":"quantitative","scale":{"domain":[-0.6,112.4],"nice":false,"zero":false},"axis":null},
     "y":{"field":"v","type":"quantitative","scale":{"domain":[-2293,829],"nice":false,"zero":false},"axis":{"orient":"right","values":[-2000,-1000,0],"labelExpr":"datum.value < 0 ? '-' + format(-datum.value, ',d') : format(datum.value, ',d')"}}}},
   {"data":{"name":"macd"},"transform":[{"filter":"datum.s === 'm'"}],"mark":{"type":"line","color":"#8a6e9e","strokeWidth":1},
    "encoding":{"x":{"field":"i","type":"quantitative","scale":{"domain":[-0.6,112.4],"nice":false,"zero":false},"axis":null},
     "y":{"field":"v","type":"quantitative","scale":{"domain":[-2293,829],"nice":false,"zero":false},"axis":{"orient":"right","values":[-2000,-1000,0],"labelExpr":"datum.value < 0 ? '-' + format(-datum.value, ',d') : format(datum.value, ',d')"}}}},
   {"data":{"name":"macdh"},"mark":{"type":"text","fontSize":6.3},
    "encoding":{"x":{"field":"i","type":"quantitative","scale":{"domain":[-0.6,112.4],"nice":false,"zero":false},"axis":null},
     "y":{"field":"v","type":"quantitative","scale":{"domain":[-2293,829],"nice":false,"zero":false},"axis":{"orient":"right","values":[-2000,-1000,0],"labelExpr":"datum.value < 0 ? '-' + format(-datum.value, ',d') : format(datum.value, ',d')"}},"text":{"field":"t"},
     "color":{"field":"t","type":"nominal","scale":{"domain":["MACD (26, 12, 9)","-699.22","-1,169.87","470.65"],"range":["#8a8a8a","#8d6f9c","#c98b9a","#eaa064"]},"legend":null}}}
  ]},
 {"width":574,"height":70,
  "resolve":{"scale":{"color":"independent"}},
  "layer":[
   {"data":{"name":"vol"},"mark":{"type":"bar","size":4},
    "encoding":{"x":{"field":"i","type":"quantitative","scale":{"domain":[-0.6,112.4],"nice":false,"zero":false},"axis":null},
     "y":{"field":"v","type":"quantitative","scale":{"domain":[-281000,6281000],"nice":false,"zero":false},
      "axis":{"orient":"right","values":[2000000,4000000,6000000],"labelExpr":"format(datum.value / 10000, 'd') + '만'","labelFont":"Noto Sans CJK KR"}},
     "y2":{"datum":0},
     "color":{"field":"k","type":"nominal","scale":{"domain":["r","b","g"],"range":["#ec8c90","#7ea8eb","#858585"]},"legend":null}}},
   {"data":{"name":"volh"},"mark":{"type":"text","fontSize":6.3},
    "encoding":{"x":{"field":"i","type":"quantitative","scale":{"domain":[-0.6,112.4],"nice":false,"zero":false},"axis":null},
     "y":{"field":"v","type":"quantitative","scale":{"domain":[-281000,6281000],"nice":false,"zero":false},"axis":{"orient":"right","values":[2000000,4000000,6000000],"labelExpr":"format(datum.value / 10000, 'd') + '만'","labelFont":"Noto Sans CJK KR"}},"text":{"field":"t"},
     "color":{"field":"t","type":"nominal","scale":{"domain":["거래량","1,496,626 (+16.31%)"],"range":["#8a8a8a","#e06a6a"]},"legend":null}}}
  ]}
]
}
